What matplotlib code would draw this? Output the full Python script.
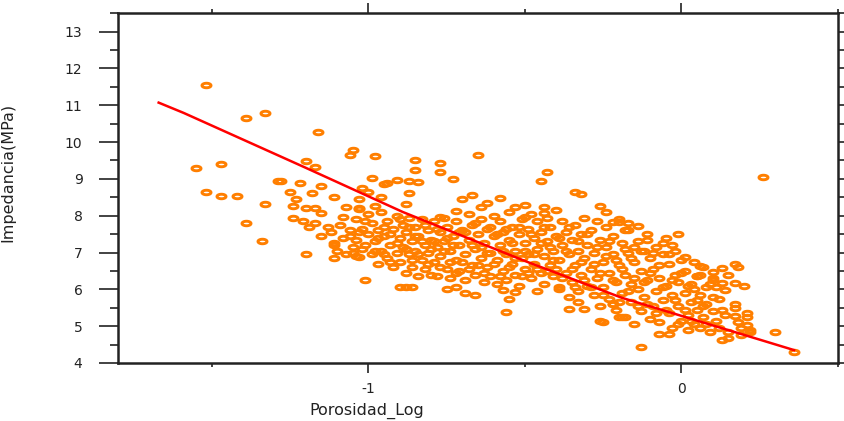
import numpy as np
import matplotlib
matplotlib.use('Agg')
import matplotlib.pyplot as plt
from matplotlib.path import Path
from matplotlib.ticker import MultipleLocator

plt.rcParams['axes.unicode_minus'] = False
plt.rcParams['font.family'] = ['DejaVu Sans']

#%%
# sparse points above / left of the main cloud
upper_pts = [(-1.52, 11.55), (-1.39, 10.66), (-1.33, 10.79), (-1.16, 10.28), (-1.05, 9.79),
             (-1.06, 9.65), (-0.98, 9.62), (-1.55, 9.30), (-1.47, 9.41), (-1.20, 9.49),
             (-1.17, 9.33), (-1.29, 8.95), (-1.28, 8.93), (-1.22, 8.89), (-1.15, 8.81),
             (-0.99, 9.03), (-0.95, 8.86), (-0.94, 8.88), (-0.91, 8.97), (-1.52, 8.65),
             (-1.47, 8.54), (-1.42, 8.54), (-1.33, 8.32), (-1.25, 8.65), (-1.23, 8.46),
             (-1.18, 8.62), (-1.11, 8.51), (-1.02, 8.76), (-1.03, 8.46), (-1.00, 8.65),
             (-0.96, 8.51), (-1.24, 8.27), (-1.20, 8.21), (-1.17, 8.21), (-1.15, 8.08),
             (-1.07, 8.24), (-1.03, 8.21), (-0.98, 8.27),
             (-0.85, 9.52), (-0.77, 9.43), (-0.65, 9.65), (-0.85, 9.24), (-0.77, 9.19),
             (-0.87, 8.95), (-0.84, 8.92), (-0.73, 9.00), (-0.43, 9.19), (-0.45, 8.95),
             (-0.87, 8.62), (-0.88, 8.32), (-0.70, 8.46), (-0.67, 8.57), (-0.58, 8.48),
             (-0.62, 8.35), (-0.64, 8.24), (-0.53, 8.24), (-0.50, 8.29), (-0.44, 8.24),
             (-0.34, 8.65), (-0.32, 8.59), (-0.26, 8.27), (-0.24, 8.10), (-0.72, 8.13),
             (-0.77, 7.97), (-0.50, 7.97), (-0.44, 8.08), (0.26, 9.05),
             (-1.39, 7.80), (-1.34, 7.32), (-1.20, 6.96), (-1.11, 6.85), (-1.01, 6.26),
             (-1.04, 6.91), (-1.24, 7.94), (-1.21, 7.86), (-1.19, 7.70), (-1.17, 7.80),
             (-1.15, 7.45), (-1.13, 7.70), (-1.11, 7.21), (-1.08, 7.97), (-1.03, 8.18)]

# points below / right of the main cloud
lower_pts = [(-0.90, 6.07), (-0.56, 5.39), (-0.36, 5.47), (-0.31, 5.47), (-0.33, 5.66),
             (-0.26, 5.14), (-0.55, 5.74), (-0.53, 5.93), (-0.57, 5.98), (-0.75, 6.01),
             (-0.72, 6.07), (-0.69, 5.90), (-0.66, 5.85), (-0.86, 6.07), (-0.88, 6.07),
             (-0.46, 5.96), (-0.39, 6.01), (-0.22, 5.60), (-0.20, 5.25),
             (-0.22, 7.83), (-0.20, 7.83), (-0.17, 7.80), (-0.18, 7.61), (-0.14, 7.72),
             (-0.01, 7.50), (-0.11, 7.34), (-0.06, 7.26), (-0.03, 7.21), (-0.15, 7.15),
             (0.01, 6.88), (0.06, 6.64), (0.10, 6.47), (0.13, 6.58), (0.17, 6.69),
             (0.05, 6.36), (0.10, 6.31), (0.13, 6.17), (0.17, 6.17), (0.11, 6.07),
             (0.14, 5.98), (0.10, 5.79), (0.17, 5.60), (0.13, 5.44), (0.17, 5.28),
             (0.21, 5.25), (0.21, 5.03), (0.22, 4.84), (0.30, 4.84), (0.36, 4.30),
             (-0.13, 4.43), (-0.07, 4.79), (-0.04, 4.79), (-0.19, 5.25), (-0.22, 5.60),
             (-0.25, 5.11), (0.13, 4.62), (0.15, 4.68), (0.19, 4.76)]

# dense cloud, read band by band
core_pts = [(-1.12, 7.55), (-1.11, 7.25), (-1.10, 7.05), (-1.09, 7.75), (-1.08, 7.40),
            (-1.07, 6.95), (-1.06, 7.60), (-1.05, 7.15), (-1.04, 7.90), (-1.04, 7.35),
            (-1.03, 6.88), (-1.02, 7.65), (-1.01, 7.20), (-1.00, 7.50), (-1.00, 8.05),
            (-0.99, 6.95), (-0.99, 7.80),
            (-0.98, 7.30), (-0.97, 7.62), (-0.97, 6.70), (-0.96, 8.10), (-0.96, 7.05),
            (-0.95, 7.45), (-0.94, 7.85), (-0.94, 6.85), (-0.93, 7.20), (-0.92, 7.65),
            (-0.92, 6.60), (-0.91, 7.00), (-0.91, 8.00), (-0.90, 7.40), (-0.90, 6.75),
            (-0.89, 7.75), (-0.89, 7.15),
            (-0.88, 6.45), (-0.88, 7.55), (-0.87, 6.95), (-0.87, 7.95), (-0.86, 7.30),
            (-0.86, 6.60), (-0.85, 7.70), (-0.85, 7.05), (-0.84, 6.35), (-0.84, 7.45),
            (-0.83, 6.80), (-0.83, 7.90), (-0.82, 7.20), (-0.82, 6.55), (-0.81, 7.60),
            (-0.81, 7.00), (-0.80, 6.40), (-0.80, 7.35),
            (-0.79, 7.85), (-0.79, 6.75), (-0.78, 7.15), (-0.78, 6.35), (-0.77, 7.55),
            (-0.77, 6.90), (-0.76, 7.95), (-0.76, 7.30), (-0.75, 6.55), (-0.75, 7.70),
            (-0.74, 7.05), (-0.74, 6.30), (-0.73, 7.45), (-0.72, 6.80), (-0.72, 7.85),
            (-0.71, 7.20), (-0.71, 6.50), (-0.70, 7.60),
            (-0.69, 6.95), (-0.69, 6.25), (-0.68, 7.35), (-0.68, 8.05), (-0.67, 6.65),
            (-0.67, 7.75), (-0.66, 7.10), (-0.66, 6.40), (-0.65, 7.50), (-0.64, 6.85),
            (-0.64, 7.90), (-0.63, 6.20), (-0.63, 7.25), (-0.62, 6.60), (-0.62, 7.65),
            (-0.61, 7.00), (-0.61, 6.35), (-0.60, 7.45), (-0.60, 8.00),
            (-0.59, 6.80), (-0.59, 6.15), (-0.58, 7.20), (-0.58, 7.85), (-0.57, 6.50),
            (-0.57, 7.55), (-0.56, 6.95), (-0.56, 6.25), (-0.55, 7.35), (-0.55, 8.10),
            (-0.54, 6.70), (-0.54, 7.70), (-0.53, 7.05), (-0.53, 6.40), (-0.52, 7.50),
            (-0.52, 6.10), (-0.51, 6.85), (-0.51, 7.90), (-0.50, 7.25), (-0.50, 6.55),
            (-0.49, 7.65), (-0.49, 6.95), (-0.48, 6.30), (-0.48, 8.05), (-0.47, 7.40),
            (-0.47, 6.70), (-0.46, 7.10), (-0.46, 7.85), (-0.45, 6.45), (-0.45, 7.55),
            (-0.44, 6.90), (-0.44, 6.15), (-0.43, 7.30), (-0.43, 7.95), (-0.42, 6.65),
            (-0.42, 7.70), (-0.41, 7.05), (-0.41, 6.35), (-0.40, 7.45), (-0.40, 8.15),
            (-0.39, 6.80), (-0.39, 6.05), (-0.38, 7.20), (-0.38, 7.85), (-0.37, 6.45),
            (-0.37, 7.55), (-0.36, 6.95), (-0.36, 5.80), (-0.35, 7.35), (-0.35, 6.20),
            (-0.34, 7.75), (-0.34, 6.65), (-0.33, 7.05), (-0.33, 5.95), (-0.32, 7.50),
            (-0.32, 6.40), (-0.31, 6.85), (-0.31, 7.95), (-0.30, 7.20), (-0.30, 6.10),
            (-0.29, 6.55), (-0.29, 7.60), (-0.28, 5.85), (-0.28, 7.00), (-0.27, 6.30),
            (-0.27, 7.85), (-0.26, 7.35), (-0.26, 5.55), (-0.25, 6.75), (-0.25, 6.05),
            (-0.24, 7.15), (-0.24, 7.70), (-0.23, 6.45), (-0.23, 5.75), (-0.22, 6.95),
            (-0.22, 7.45), (-0.21, 6.20), (-0.21, 5.45), (-0.20, 6.65), (-0.20, 7.90),
            (-0.19, 7.25), (-0.19, 5.90), (-0.18, 6.40), (-0.18, 5.25), (-0.17, 7.00),
            (-0.17, 7.60), (-0.16, 5.65), (-0.16, 6.15), (-0.15, 6.75), (-0.15, 5.05),
            (-0.14, 7.30), (-0.14, 6.00), (-0.13, 5.40), (-0.13, 6.50), (-0.12, 7.05),
            (-0.12, 5.80), (-0.11, 6.25), (-0.11, 7.50), (-0.10, 5.20), (-0.10, 6.85),
            (-0.09, 5.55), (-0.09, 6.55), (-0.08, 7.15), (-0.08, 5.95), (-0.07, 5.10),
            (-0.07, 6.30), (-0.06, 6.95), (-0.06, 5.70), (-0.05, 7.40), (-0.05, 6.10),
            (-0.04, 5.35), (-0.04, 6.70), (-0.03, 4.95), (-0.03, 5.85), (-0.02, 6.40),
            (-0.02, 7.05), (-0.01, 5.55), (-0.01, 6.20), (0.00, 5.15), (0.00, 6.80),
            (0.01, 5.90), (0.01, 6.50), (0.02, 5.30), (0.02, 4.90), (0.03, 6.15),
            (0.03, 5.65), (0.04, 6.75), (0.04, 5.05), (0.05, 5.45), (0.05, 6.35),
            (0.06, 5.85), (0.06, 4.95), (0.07, 6.60), (0.07, 5.25), (0.08, 6.05),
            (0.08, 5.60), (0.09, 4.85), (0.10, 5.40), (0.10, 6.25),
            (0.11, 5.15), (0.12, 5.75), (0.12, 4.95), (0.14, 5.30), (0.15, 6.40),
            (0.15, 4.85), (0.17, 5.50), (0.18, 5.10), (0.19, 4.95), (0.20, 6.10),
            (0.21, 5.35), (0.22, 4.90), (0.18, 6.60)]

# second pass over the densest part of the cloud
core_fill = [(-1.06, 7.45), (-1.05, 6.98), (-1.03, 7.55), (-1.02, 7.10), (-1.01, 7.85),
             (-0.98, 7.05), (-0.97, 7.40), (-0.95, 6.95), (-0.95, 7.70), (-0.93, 7.50),
             (-0.93, 6.75), (-0.91, 7.25), (-0.90, 7.90),
             (-0.88, 7.10), (-0.87, 7.70), (-0.86, 6.80), (-0.85, 7.45), (-0.84, 6.95),
             (-0.83, 7.30), (-0.82, 7.75), (-0.81, 6.70), (-0.80, 7.10),
             (-0.79, 7.30), (-0.78, 7.65), (-0.77, 6.60), (-0.76, 7.05), (-0.75, 7.40),
             (-0.74, 6.75), (-0.73, 7.20), (-0.72, 6.45), (-0.71, 7.55),
             (-0.70, 6.75), (-0.69, 7.55), (-0.68, 6.55), (-0.67, 7.20), (-0.66, 7.80),
             (-0.65, 6.65), (-0.64, 7.15), (-0.63, 6.45), (-0.62, 7.00), (-0.61, 7.70),
             (-0.60, 6.70), (-0.59, 7.50), (-0.58, 6.35), (-0.57, 7.05), (-0.56, 7.65),
             (-0.55, 6.60), (-0.54, 7.25), (-0.53, 6.85), (-0.52, 7.70), (-0.51, 6.35),
             (-0.50, 7.05), (-0.49, 6.45), (-0.48, 7.50), (-0.47, 6.95), (-0.46, 6.55),
             (-0.45, 7.25), (-0.44, 7.70), (-0.43, 6.50), (-0.42, 7.15), (-0.41, 6.80),
             (-0.40, 6.55), (-0.39, 7.40), (-0.38, 6.30), (-0.37, 7.05), (-0.36, 7.70),
             (-0.35, 6.55), (-0.34, 6.05), (-0.33, 7.30), (-0.32, 6.75), (-0.31, 6.25),
             (-0.30, 7.50), (-0.29, 6.05), (-0.28, 6.70), (-0.27, 7.15), (-0.26, 6.45),
             (-0.25, 5.85), (-0.24, 6.90), (-0.23, 7.30), (-0.22, 6.25), (-0.21, 6.80),
             (-0.20, 5.65), (-0.19, 6.55), (-0.18, 7.10), (-0.17, 5.95), (-0.16, 6.85),
             (-0.15, 6.30), (-0.14, 5.55), (-0.13, 7.05), (-0.12, 6.20), (-0.11, 5.60),
             (-0.10, 6.45), (-0.09, 7.00), (-0.08, 5.35), (-0.07, 6.65), (-0.06, 6.05),
             (-0.05, 5.45), (-0.04, 6.95), (-0.03, 6.25), (-0.02, 5.70), (-0.01, 5.05),
             (0.00, 6.45), (0.01, 5.45), (0.02, 6.10), (0.03, 5.15), (0.04, 6.00),
             (0.05, 5.70), (0.06, 6.40), (0.07, 5.55), (0.08, 5.05), (0.09, 6.15)]

# red fitted curve
fit_x = [-1.67, -1.59, -1.20, -0.89, -0.50, -0.19, 0.00, 0.36]
fit_y = [11.07, 10.79, 9.30, 8.10, 6.77, 5.77, 5.28, 4.35]

#%%
pts = np.array(upper_pts + core_pts + core_fill + lower_pts)

# rings look squashed in the reference, use a flattened circle
t = np.linspace(0, 2 * np.pi, 41)
ring = Path(np.column_stack([np.cos(t), 0.5 * np.sin(t)]), closed=True)

fig = plt.figure(figsize=(8.45, 4.21), dpi=100)
ax = fig.add_axes([0.1396, 0.1378, 0.852, 0.831])

ax.plot(pts[:, 0], pts[:, 1], linestyle='none', marker=ring, ms=6.5,
        mfc='none', mec='#ff7f00', mew=2.1)
ax.plot(fit_x, fit_y, color='#ff0000', lw=1.8)

ax.set_xlim(-1.8, 0.5)
ax.set_ylim(4, 13.5)
ax.xaxis.set_major_locator(MultipleLocator(1))
ax.xaxis.set_minor_locator(MultipleLocator(0.5))
ax.yaxis.set_major_locator(MultipleLocator(1))
ax.yaxis.set_minor_locator(MultipleLocator(0.5))

for s in ax.spines.values():
    s.set_linewidth(1.8)
    s.set_color('#222222')

ax.tick_params(axis='both', which='both', direction='out', colors='#222222',
               top=True, right=True, labeltop=False, labelright=False)
ax.tick_params(axis='y', which='major', length=13.5, width=1.2, pad=12, labelsize=10)
ax.tick_params(axis='y', which='minor', length=6, width=1.2)
ax.tick_params(axis='x', which='major', length=7, width=1.2, pad=7, labelsize=10)
ax.tick_params(axis='x', which='minor', length=3, width=1.2)

ax.set_xlabel('Porosidad_Log', fontsize=11.5, color='#222222')
ax.xaxis.set_label_coords(0.346, -0.115)
ax.set_ylabel('Impedancia(MPa)', fontsize=11.5, color='#222222')
ax.yaxis.set_label_coords(-0.143, 0.546)

fig.savefig('out.png', dpi=100)
